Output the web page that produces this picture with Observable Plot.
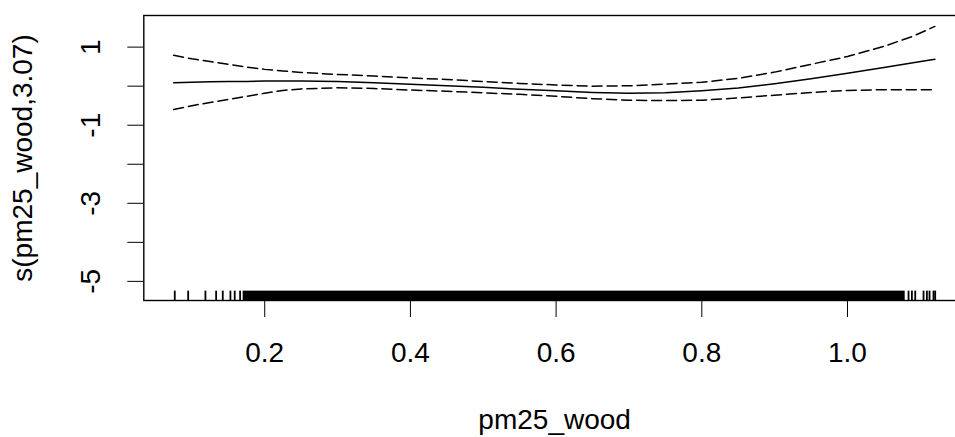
<!DOCTYPE html>
<html>
<head>
<meta charset="utf-8">
<script src="https://cdn.jsdelivr.net/npm/d3@7"></script>
<script src="https://cdn.jsdelivr.net/npm/@observablehq/plot@0.6"></script>
<style>
  html, body { margin: 0; padding: 0; background: #fff; }
  #chart { width: 955px; height: 437px; overflow: hidden; }
</style>
</head>
<body>
<div id="chart"></div>
<script>
// ---- data ----
const xGrid = [0.075, 0.10, 0.125, 0.15, 0.175, 0.20, 0.225, 0.25, 0.30, 0.35, 0.40, 0.45, 0.50,
               0.55, 0.60, 0.65, 0.70, 0.75, 0.80, 0.85, 0.90, 0.95, 1.00, 1.05, 1.09, 1.12];
const fitValues = [0.09, 0.10, 0.11, 0.12, 0.12, 0.13, 0.13, 0.13, 0.12, 0.09, 0.05, 0.01, -0.03,
                   -0.08, -0.12, -0.16, -0.18, -0.17, -0.12, -0.05, 0.06, 0.19, 0.33, 0.48, 0.60, 0.69];
const upperValues = [0.79, 0.70, 0.63, 0.56, 0.49, 0.43, 0.39, 0.35, 0.30, 0.26, 0.21, 0.17, 0.12,
                     0.07, 0.03, 0.00, 0.01, 0.05, 0.10, 0.20, 0.36, 0.56, 0.76, 1.02, 1.28, 1.53];
const lowerValues = [-0.60, -0.50, -0.42, -0.34, -0.26, -0.18, -0.11, -0.07, -0.04, -0.06, -0.10, -0.13, -0.17,
                     -0.21, -0.26, -0.32, -0.36, -0.37, -0.36, -0.30, -0.23, -0.16, -0.11, -0.09, -0.09, -0.09];
// rug: isolated observations and the dense stretch between them
const rugSparse = [0.0765, 0.0949, 0.1186, 0.1333, 0.1424, 0.1529, 0.1588, 0.1662,
                   1.0838, 1.0884, 1.0930, 1.1044, 1.1090, 1.1126, 1.1181, 1.1204];
const rugDense = [{from: 0.1704, to: 1.0792}];
const xTicks = [0.2, 0.4, 0.6, 0.8, 1.0];
const yTicks = [1, 0, -1, -2, -3, -4, -5];
const yTickLabels = [1, -1, -3, -5];
const xTitle = "pm25_wood";
const yTitle = "s(pm25_wood,3.07)";

// ---- chart ----
const xDomain = [0.034, 1.162];
const yDomain = [-5.49, 1.81];
const rugLen = 0.24; // in y units (~9px)
const font = "'Liberation Sans', Arial, sans-serif";

const series = xGrid.map((x, i) => ({x, fit: fitValues[i], up: upperValues[i], lo: lowerValues[i]}));

const plot = Plot.plot({
  width: 955,
  height: 437,
  marginLeft: 143.3,
  marginRight: -10,
  marginTop: 15,
  marginBottom: 137,
  style: {fontFamily: font, fontSize: "28px", color: "#000", background: "#fff"},
  x: {domain: xDomain, ticks: xTicks, tickSize: 17, tickPadding: 25,
      tickFormat: d3.format(".1f"), label: null},
  y: {domain: yDomain, ticks: yTicks, tickSize: 16, tickFormat: () => "", label: null},
  marks: [
    Plot.rect(rugDense, {x1: "from", x2: "to", y1: yDomain[0], y2: yDomain[0] + rugLen, fill: "#000"}),
    Plot.ruleX(rugSparse, {x: d => d, y1: yDomain[0], y2: yDomain[0] + rugLen, stroke: "#000", strokeWidth: 1.8}),
    Plot.line(series, {x: "x", y: "up", stroke: "#000", strokeWidth: 1.5, strokeDasharray: "10,5"}),
    Plot.line(series, {x: "x", y: "lo", stroke: "#000", strokeWidth: 1.5, strokeDasharray: "10,5"}),
    Plot.line(series, {x: "x", y: "fit", stroke: "#000", strokeWidth: 1.5}),
    Plot.frame({stroke: "#000", strokeWidth: 1.4}),
    Plot.text(yTickLabels, {frameAnchor: "left", y: d => d, text: d => String(d), rotate: -90,
      textAnchor: "middle", lineAnchor: "bottom", dx: -44, fontSize: 28, fill: "#000"}),
    Plot.text([yTitle], {frameAnchor: "left", text: d => d, rotate: -90, textAnchor: "middle",
      lineAnchor: "bottom", dx: -112, fontSize: 28, fill: "#000"}),
    Plot.text([xTitle], {frameAnchor: "bottom", text: d => d, textAnchor: "middle",
      lineAnchor: "bottom", dy: 128, fontSize: 28, fill: "#000"})
  ]
});
document.getElementById("chart").appendChild(plot);
</script>
</body>
</html>
